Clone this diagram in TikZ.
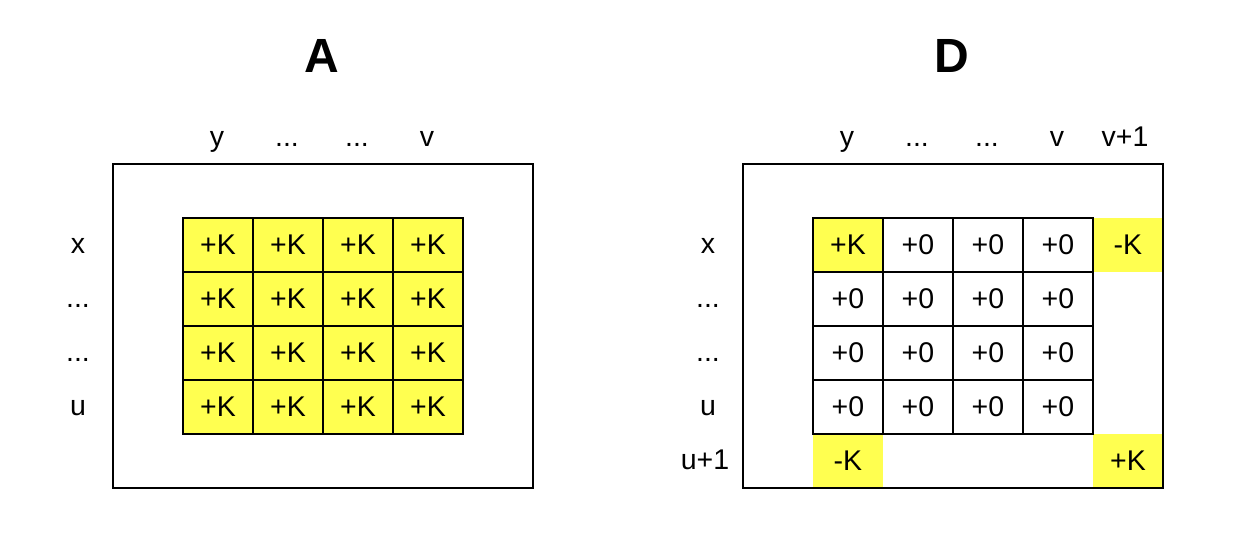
\documentclass[tikz,border=0pt]{standalone}
\usepackage{fontspec}
\setmainfont{Liberation Sans}
\definecolor{cellyellow}{RGB}{255,255,80}
\begin{document}
\begin{tikzpicture}[x=1pt,y=-1pt,
  cell/.style={draw, line width=1.9pt, minimum width=70pt, minimum height=54pt, inner sep=0pt, anchor=north west, font=\fontsize{28.5}{28.5}\selectfont},
  ycell/.style={cell, fill=cellyellow},
  bare/.style={cell, draw=none, fill=cellyellow},
  frame/.style={draw, line width=1.9pt, minimum width=420pt, minimum height=324pt, inner sep=0pt, anchor=north west},
  lbl/.style={anchor=base, inner sep=0pt, font=\fontsize{28.5}{28.5}\selectfont},
  ttl/.style={anchor=base, inner sep=0pt, font=\fontsize{48}{48}\selectfont\bfseries}]
\path[use as bounding box] (0,0) rectangle (1247,541);
% Titles
\node[ttl] (tA) at (322,72) {A};
\node[ttl] (tD) at (952,72) {D};
% Panel A
\node[frame] (outA) at (112,163) {};
\foreach \i in {0,...,3}{
  \foreach \j in {0,...,3}{
    \node[ycell] (a\i\j) at (182+70*\i,217+54*\j) {+K};
  }
}
\node[lbl] (acy) at (217,146) {y};
\node[lbl] (acd1) at (287,146) {...};
\node[lbl] (acd2) at (357,146) {...};
\node[lbl] (acv) at (427,146) {v};
\node[lbl] (arx) at (78,253) {x};
\node[lbl] (ard1) at (78,307) {...};
\node[lbl] (ard2) at (78,361) {...};
\node[lbl] (aru) at (78,415) {u};
% Panel D
\node[bare] (dtr) at (1092,217) {-K};
\node[bare] (dbl) at (812,433) {-K};
\node[bare] (dbr) at (1092,433) {+K};
\foreach \i in {0,...,3}{
  \foreach \j in {0,...,3}{
    \node[cell] (d\i\j) at (812+70*\i,217+54*\j) {+0};
  }
}
\node[ycell] (d00k) at (812,217) {+K};
\node[frame] (outD) at (742,163) {};
\node[lbl] (dcy) at (847,146) {y};
\node[lbl] (dcd1) at (917,146) {...};
\node[lbl] (dcd2) at (987,146) {...};
\node[lbl] (dcv) at (1057,146) {v};
\node[lbl] (dcv1) at (1125,146) {v+1};
\node[lbl] (drx) at (708,253) {x};
\node[lbl] (drd1) at (708,307) {...};
\node[lbl] (drd2) at (708,361) {...};
\node[lbl] (dru) at (708,415) {u};
\node[lbl] (dru1) at (705,469) {u+1};
\end{tikzpicture}
\end{document}
